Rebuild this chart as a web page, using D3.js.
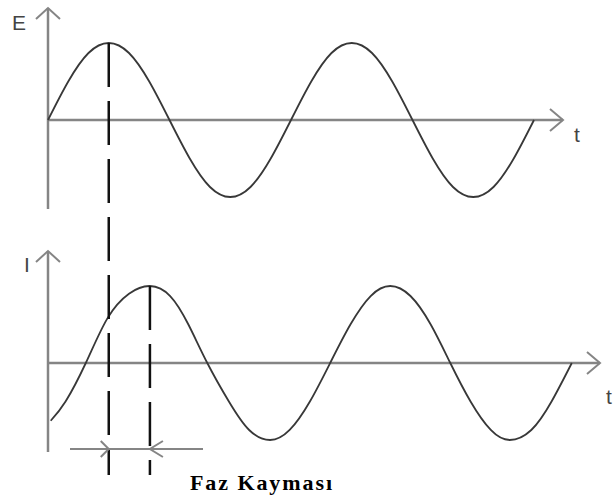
<!DOCTYPE html>
<html>
<head>
<meta charset="utf-8">
<script src="https://cdn.jsdelivr.net/npm/d3@7"></script>
<style>
  body { margin: 0; background: #fff; }
  svg { display: block; }
</style>
</head>
<body>
<div id="chart"></div>
<script>
// phase angle (degrees) and normalised amplitude
var eDeg = [0, 30, 60, 90, 120, 150, 180, 210, 240, 270, 300, 330, 360,
            390, 420, 450, 480, 510, 540, 570, 600, 630, 660, 690, 720];
var eVal = [0, 0.5, 0.87, 1, 0.87, 0.5, 0, -0.5, -0.87, -1, -0.87, -0.5, 0,
            0.5, 0.87, 1, 0.87, 0.5, 0, -0.5, -0.87, -1, -0.87, -0.5, 0];

var iDeg = [4, 26, 56, 88, 120, 151, 181, 208, 236, 268, 298, 329, 358,
            388, 418, 448, 478, 507, 537, 567, 596, 626, 656, 684, 716, 746, 776];
var iVal = [-0.75, -0.5, 0, 0.58, 0.9, 1, 0.87, 0.5, 0, -0.5, -0.87, -1, -0.87,
            -0.5, 0, 0.5, 0.87, 1, 0.87, 0.5, 0, -0.5, -0.87, -1, -0.87, -0.5, 0];

var ePeakDeg = 90, iPeakDeg = 151;
var labels = { e: 'E', i: 'I', t: 't', shift: 'Faz Kayması' };

var width = 616, height = 502;

var svg = d3.select('#chart').append('svg')
    .attr('width', width)
    .attr('height', height);

var x = d3.scaleLinear().domain([0, 720]).range([48, 534]);
var yE = d3.scaleLinear().domain([-1, 1]).range([197, 43]);
var yI = d3.scaleLinear().domain([-1, 1]).range([440, 286]);

var axisColor = '#858585', curveColor = '#383838';

function drawAxes(y, top, bottom, right) {
    var x0 = x(0), y0 = y(0);
    var g = svg.append('g')
        .attr('stroke', axisColor)
        .attr('stroke-width', 2.5)
        .attr('fill', 'none');
    g.append('line').attr('x1', x0).attr('x2', x0).attr('y1', top).attr('y2', bottom);
    g.append('line').attr('x1', x0).attr('x2', right).attr('y1', y0).attr('y2', y0);
    g.append('path').attr('stroke-width', 2)
        .attr('d', 'M' + (x0 - 12) + ',' + (top + 11) + 'L' + x0 + ',' + top + 'L' + (x0 + 12) + ',' + (top + 11));
    g.append('path').attr('stroke-width', 2)
        .attr('d', 'M' + (right - 13) + ',' + (y0 - 11) + 'L' + right + ',' + y0 + 'L' + (right - 13) + ',' + (y0 + 11));
}

drawAxes(yE, 8, 209, 563);
drawAxes(yI, 251, 452, 600);

function drawWave(degs, vals, y) {
    var pts = degs.map(function(d, i) { return [d, vals[i]]; });
    var line = d3.line()
        .x(function(p) { return x(p[0]); })
        .y(function(p) { return y(p[1]); })
        .curve(d3.curveNatural);
    svg.append('path')
        .datum(pts)
        .attr('d', line)
        .attr('fill', 'none')
        .attr('stroke', curveColor)
        .attr('stroke-width', 1.8);
}

drawWave(eDeg, eVal, yE);
drawWave(iDeg, iVal, yI);

// dashed markers at the two peaks
var markBottom = 475;
svg.append('line')
    .attr('x1', x(ePeakDeg)).attr('x2', x(ePeakDeg))
    .attr('y1', yE(1)).attr('y2', markBottom)
    .attr('stroke', '#111').attr('stroke-width', 2.5)
    .attr('stroke-dasharray', '44,14');
svg.append('line')
    .attr('x1', x(iPeakDeg)).attr('x2', x(iPeakDeg))
    .attr('y1', yI(1)).attr('y2', markBottom)
    .attr('stroke', '#111').attr('stroke-width', 2.5)
    .attr('stroke-dasharray', '44,14');

// phase shift arrows
var ay = 449, xa = x(ePeakDeg), xb = x(iPeakDeg);
var ag = svg.append('g').attr('stroke', axisColor).attr('stroke-width', 2).attr('fill', 'none');
ag.append('line').attr('x1', 70).attr('x2', 203).attr('y1', ay).attr('y2', ay);
ag.append('path').attr('d', 'M' + (xa - 8) + ',' + (ay - 8) + 'L' + xa + ',' + ay + 'L' + (xa - 8) + ',' + (ay + 8));
ag.append('path').attr('d', 'M' + (xb + 13) + ',' + (ay - 8) + 'L' + xb + ',' + ay + 'L' + (xb + 13) + ',' + (ay + 8));

// labels
var sans = 'Liberation Sans, Arial, sans-serif';
function label(txt, lx, ly) {
    svg.append('text').attr('x', lx).attr('y', ly)
        .attr('font-family', sans).attr('font-size', 21)
        .attr('fill', '#444').text(txt);
}
label(labels.e, 12, 30);
label(labels.t, 574, 142);
label(labels.i, 24, 272);
label(labels.t, 606, 404);

svg.append('text')
    .attr('x', 190).attr('y', 490)
    .attr('font-family', 'Liberation Serif, Times New Roman, serif')
    .attr('font-weight', 'bold')
    .attr('font-size', 22)
    .attr('textLength', 142)
    .attr('lengthAdjust', 'spacing')
    .attr('fill', '#000')
    .text(labels.shift);
</script>
</body>
</html>
